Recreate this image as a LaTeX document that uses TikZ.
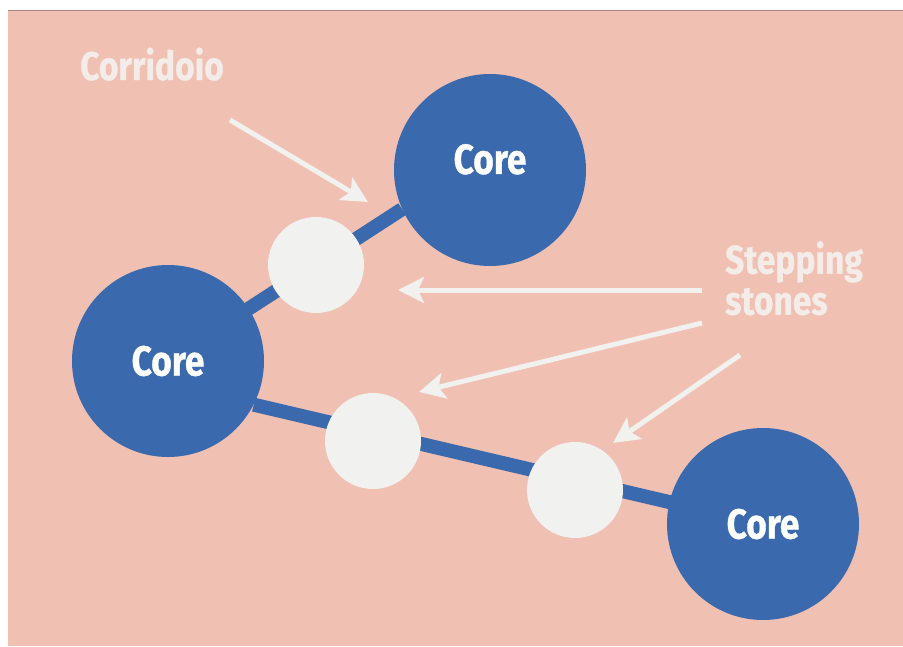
\documentclass[tikz,border=0pt]{standalone}
\usepackage{fontspec}
\setmainfont{Fira Sans}[FakeStretch=0.84,BoldFeatures={FakeBold=0.8}]
\usetikzlibrary{arrows.meta}
\definecolor{salmon}{HTML}{F0C0B2}
\definecolor{coreblue}{HTML}{3A6AAD}
\definecolor{stonewhite}{HTML}{F1F1EF}
\definecolor{labelwhite}{HTML}{F4ECE8}
\pgfdeclarelayer{paper}
\pgfdeclarelayer{links}
\pgfsetlayers{paper,links,main}

\begin{document}
\begin{tikzpicture}[x=1pt,y=-1pt,
	core/.style={circle,fill=coreblue,minimum size=192pt,inner sep=0pt,text=white,font=\fontsize{42}{44}\selectfont\bfseries},
	stone/.style={circle,fill=stonewhite,minimum size=96pt,inner sep=0pt},
	link/.style={draw=coreblue,line width=14pt},
	pointer/.style={draw=stonewhite,line width=5pt,-{Stealth[length=26pt,width=26pt,inset=6pt]}},
	caption/.style={text=labelwhite,inner sep=0pt,font=\fontsize{40}{41}\selectfont\bfseries}]
	\useasboundingbox (0,0) rectangle (903,646);
	\node[core,text depth=22pt] (core1) at (490,170) {Core};
	\node[core] (core2) at (168,361) {Core};
	\node[core] (core3) at (763,524) {Core};
	\node[stone] (stone1) at (316,265) {};
	\node[stone] (stone2) at (373,441) {};
	\node[stone] (stone3) at (575,490) {};
	\node[caption,anchor=base west] (corridoio) at (80,80) {Corridoio};
	\node[caption,anchor=north west,align=left] (stepping) at (725,241) {Stepping\\stones};
	\coordinate (c1) at (230,120);
	\coordinate (t1) at (368,202);
	\coordinate (s2) at (702,290);
	\coordinate (t2) at (398,290);
	\coordinate (s3) at (702,323);
	\coordinate (t3) at (419,392);
	\coordinate (s4) at (740,355);
	\coordinate (t4) at (613,443);
	\draw[pointer] (c1) -- (t1);
	\draw[pointer] (s2) -- (t2);
	\draw[pointer] (s3) -- (t3);
	\draw[pointer] (s4) -- (t4);
	\begin{pgfonlayer}{links}
		\draw[link] (core2.center) -- (core1.204);
		\draw[link] (core2.-27) -- (core3.center);
	\end{pgfonlayer}
	\begin{pgfonlayer}{paper}
		\fill[salmon] (8,10) rectangle (903,646);
		\draw[color=salmon!70!black,line width=1pt] (8,10.5) -- (903,10.5);
	\end{pgfonlayer}
\end{tikzpicture}
\end{document}
